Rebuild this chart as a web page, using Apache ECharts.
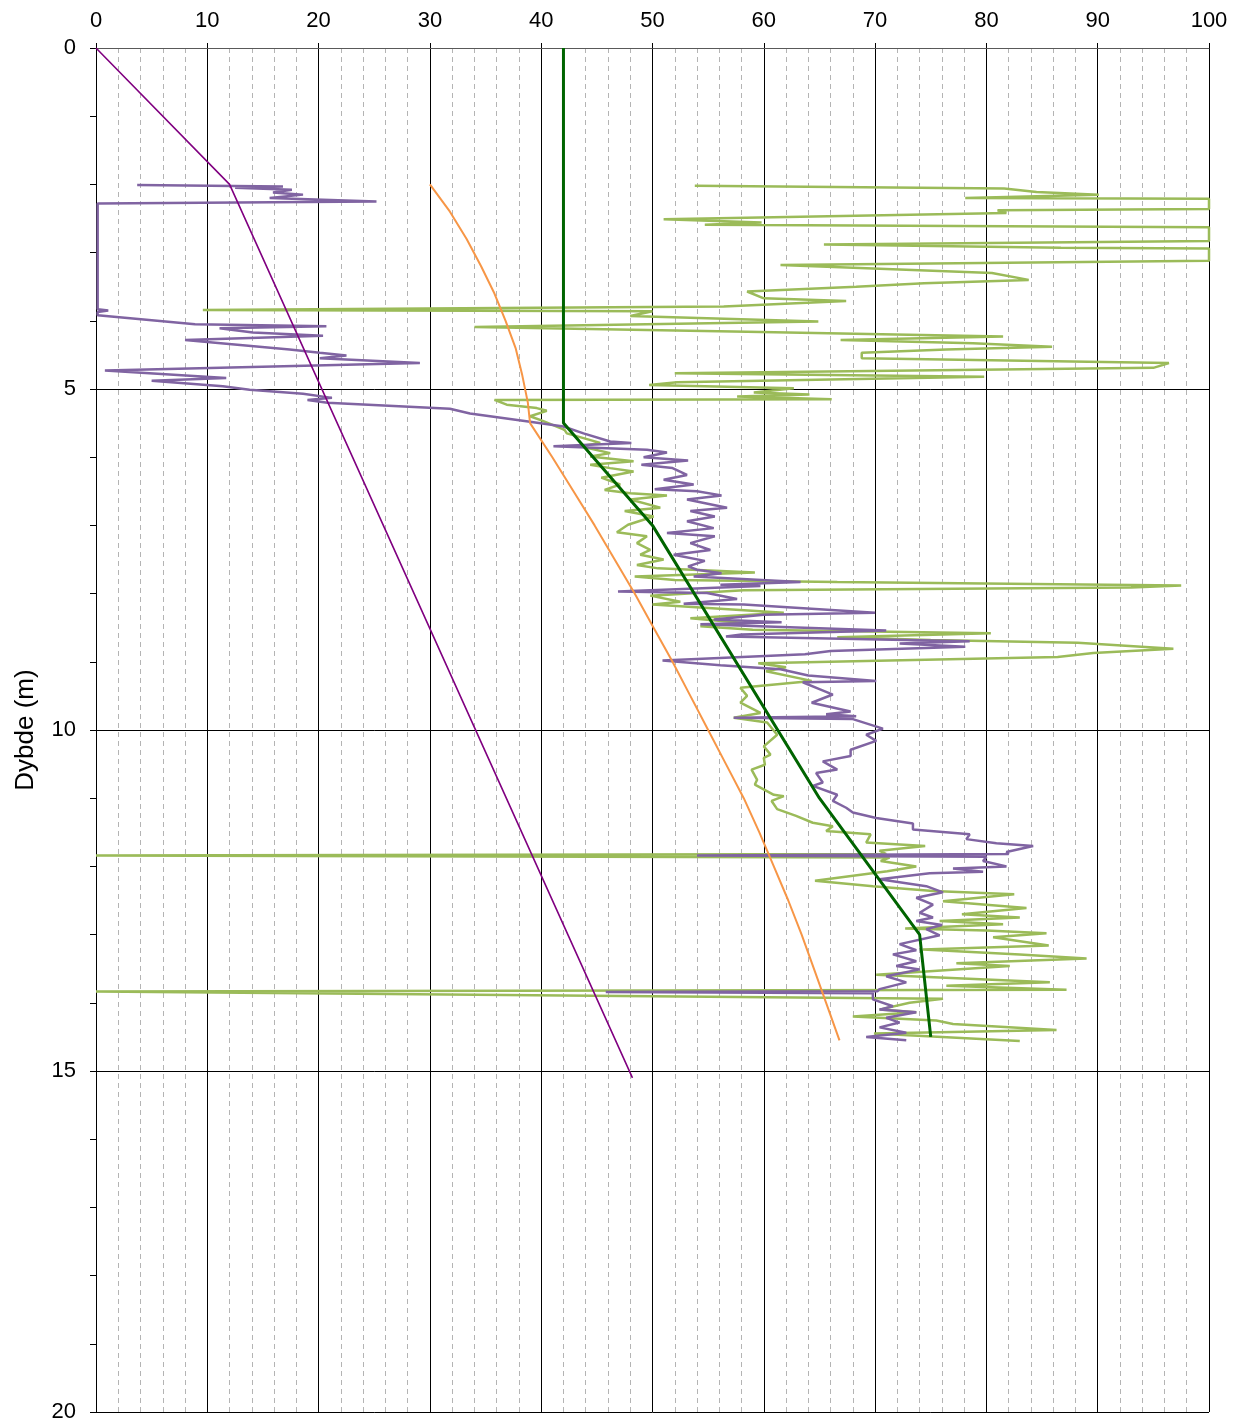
<!DOCTYPE html>
<html>
<head>
<meta charset="utf-8">
<script src="https://cdn.jsdelivr.net/npm/echarts@6/dist/echarts.min.js"></script>
<style>
  html, body { margin: 0; padding: 0; background: #ffffff; }
  #chart { width: 1239px; height: 1423px; }
</style>
</head>
<body>
<div id="chart"></div>
<script>
// Depth profiles, each point is [value, depth (m)].

// Sounding profile drawn in purple
const purpleProfile = [
  [3.7,2.01],[16.8,2.03],[12.5,2.05],[17.6,2.08],[15.9,2.12],[18.6,2.15],[15.6,2.20],[25.2,2.25],
  [0.15,2.28],[0.15,3.83],[1.1,3.85],[0.15,3.87],[0.15,3.92],[8.9,4.05],[20.7,4.08],[11.1,4.11],
  [14.1,4.17],[20.4,4.22],[8.0,4.28],[17.4,4.42],[20.1,4.47],[22.5,4.51],[20.1,4.55],[29.1,4.62],
  [0.8,4.73],[11.7,4.84],[5.0,4.88],[11.4,4.96],[13.8,5.01],[18.6,5.07],[21.2,5.13],[19.0,5.16],
  [20.8,5.20],[31.8,5.29],[33.6,5.36],[39.0,5.48],[42.0,5.55],[43.8,5.65],[46.2,5.77],[48.1,5.79],
  [41.1,5.84],[49.5,5.89],[51.3,5.93],[49.2,6.00],[53.2,6.05],[49.0,6.11],[51.8,6.16],[53.1,6.26],
  [51.0,6.33],[53.7,6.40],[50.2,6.47],[54.0,6.50],[56.2,6.56],[53.1,6.62],[56.7,6.74],[53.4,6.79],
  [55.6,6.87],[53.1,6.94],[55.5,7.04],[51.3,7.11],[55.6,7.16],[53.4,7.26],[55.2,7.36],[51.9,7.43],
  [54.7,7.52],[53.2,7.60],[54.0,7.65],[56.2,7.70],[53.7,7.75],[63.3,7.83],[56.1,7.87],[59.7,7.89],
  [46.9,7.97],[54.9,7.99],[57.6,8.08],[52.8,8.15],[58.2,8.16],[70.0,8.28],[60.0,8.31],[55.5,8.38],
  [61.6,8.42],[54.3,8.45],[71.0,8.54],[58.0,8.60],[56.6,8.63],[78.5,8.70],[72.2,8.73],[78.1,8.78],
  [66.0,8.84],[63.7,8.89],[50.9,8.98],[56.1,9.05],[61.5,9.11],[64.0,9.20],[70.1,9.28],[63.5,9.30],
  [65.0,9.40],[66.2,9.48],[64.3,9.60],[67.8,9.73],[65.6,9.77],[68.3,9.80],[57.3,9.82],[68.0,9.84],
  [70.7,9.98],[69.2,10.07],[70.1,10.16],[67.8,10.29],[67.8,10.38],[65.3,10.46],[66.6,10.58],[64.7,10.63],
  [65.3,10.77],[64.4,10.82],[66.6,10.95],[66.2,11.04],[67.4,11.14],[68.0,11.21],[70.1,11.29],[73.4,11.37],
  [73.4,11.46],[78.5,11.53],[78.2,11.60],[80.9,11.66],[84.2,11.70],[81.8,11.79],[82.0,11.82],[54.0,11.84],
  [80.0,11.86],[79.7,11.92],[81.8,12.00],[77.0,12.03],[79.7,12.08],[74.9,12.10],[70.4,12.19],[74.6,12.29],
  [76.1,12.38],[73.7,12.46],[75.2,12.56],[74.0,12.68],[75.2,12.75],[73.7,12.80],[76.0,12.86],[74.6,12.92],
  [75.8,13.01],[72.2,13.14],[73.7,13.23],[71.6,13.29],[73.7,13.39],[71.9,13.46],[74.0,13.51],[71.0,13.61],
  [72.8,13.70],[70.4,13.80],[70.2,13.83],[45.8,13.84],[69.8,13.86],[69.8,13.95],[71.6,14.05],[70.4,14.10],
  [73.7,14.14],[71.0,14.22],[72.2,14.29],[70.4,14.36],[72.8,14.44],[69.2,14.50],[72.8,14.55]
];

// Sounding profile drawn in light green
const greenProfile = [
  [53.8,2.02],[81.6,2.06],[84.5,2.11],[90.1,2.15],[78.1,2.20],[100,2.21],[100,2.36],[81.0,2.38],
  [81.8,2.42],[51.0,2.51],[59.8,2.56],[54.7,2.59],[100,2.63],[100,2.83],[65.4,2.88],[86.7,2.93],
  [100,2.94],[100,3.12],[61.5,3.18],[80.5,3.30],[83.8,3.40],[74.4,3.45],[68.3,3.50],[58.5,3.57],
  [60.0,3.67],[67.4,3.71],[56.4,3.79],[9.6,3.84],[50.0,3.86],[48.0,3.93],[64.9,4.01],[34.0,4.09],
  [58.5,4.16],[81.5,4.23],[66.9,4.28],[78.8,4.33],[85.9,4.38],[76.4,4.42],[68.8,4.47],[68.8,4.55],
  [96.4,4.62],[95.0,4.69],[52.0,4.77],[79.8,4.82],[52.2,4.90],[49.7,4.94],[62.7,4.99],[59.1,5.05],
  [64.1,5.08],[57.6,5.11],[66.1,5.15],[35.8,5.16],[36.9,5.23],[39.6,5.28],[40.5,5.32],[39.0,5.40],
  [40.2,5.47],[42.1,5.60],[42.3,5.65],[45.3,5.79],[43.5,5.84],[46.2,5.94],[44.4,5.99],[48.3,6.06],
  [44.4,6.11],[46.2,6.16],[48.3,6.21],[45.4,6.30],[47.1,6.40],[45.7,6.48],[48.0,6.53],[51.3,6.56],
  [48.0,6.62],[50.7,6.74],[47.5,6.79],[50.1,6.87],[47.8,6.99],[46.8,7.10],[49.5,7.16],[48.6,7.26],
  [49.8,7.36],[48.9,7.43],[51.0,7.50],[48.6,7.58],[50.5,7.63],[59.2,7.69],[48.4,7.75],[52.0,7.80],
  [66.6,7.83],[97.5,7.88],[93.0,7.91],[58.2,7.95],[49.8,8.03],[52.5,8.12],[50.0,8.16],[61.8,8.28],
  [53.4,8.36],[58.2,8.43],[54.3,8.48],[59.0,8.53],[80.4,8.58],[66.6,8.64],[75.0,8.68],[88.2,8.72],
  [96.8,8.81],[89.6,8.87],[86.4,8.93],[59.5,9.02],[62.0,9.08],[60.2,9.14],[64.3,9.28],[57.9,9.38],
  [58.5,9.50],[57.9,9.60],[59.7,9.75],[57.3,9.82],[60.3,9.89],[61.2,10.07],[60.0,10.24],[60.6,10.36],
  [60.0,10.41],[60.1,10.51],[58.9,10.58],[59.4,10.73],[59.2,10.80],[60.9,10.95],[61.8,10.97],[60.7,11.04],
  [61.2,11.16],[62.9,11.26],[64.4,11.36],[66.2,11.41],[65.6,11.48],[69.6,11.53],[69.2,11.65],[74.5,11.70],
  [70.4,11.77],[71.0,11.82],[0,11.84],[71.3,11.87],[70.5,11.92],[73.7,12.00],[71.1,12.07],[64.6,12.21],
  [69.8,12.29],[75.2,12.36],[82.5,12.41],[76.1,12.51],[83.6,12.61],[77.8,12.70],[83.0,12.75],[75.8,12.80],
  [81.5,12.85],[72.7,12.91],[80.0,12.94],[85.4,12.98],[80.6,13.04],[85.6,13.16],[74.3,13.22],[83.0,13.29],
  [89.0,13.35],[77.3,13.42],[82.1,13.46],[70.1,13.59],[85.7,13.70],[76.4,13.75],[87.2,13.81],[0,13.835],
  [0,13.845],[76.1,13.94],[73.1,14.00],[70.4,14.10],[73.7,14.14],[68.0,14.20],[75.5,14.26],[77.0,14.31],
  [86.3,14.40],[69.9,14.45],[83.0,14.56]
];

// Smooth orange reference curve
const orangeCurve = [
  [30.0,2.0],[31.8,2.4],[33.3,2.8],[34.6,3.2],[35.8,3.6],[36.8,4.0],[37.7,4.4],[38.3,4.8],
  [38.8,5.2],[39.0,5.5],[41.0,6.0],[42.9,6.5],[44.8,7.0],[46.6,7.5],[48.4,8.0],[50.1,8.5],
  [51.8,9.0],[53.4,9.5],[55.0,10.0],[56.6,10.5],[58.2,11.0],[59.6,11.5],[60.9,12.0],[62.2,12.5],
  [63.4,13.0],[64.5,13.5],[65.6,14.0],[66.8,14.55]
];

// Straight dark purple line
const purpleLine = [[0,0],[12.0,2.0],[48.2,15.1]];

// Dark green interpreted trend
const greenTrend = [[42,0],[42,5.5],[50,7.0],[65,11.0],[74,13.0],[75,14.5]];

const chart = echarts.init(document.getElementById('chart'), null, { renderer: 'canvas' });

const fontFamily = 'Liberation Sans, Arial, sans-serif';
const labelFont = { fontFamily, fontSize: 22, color: '#000000' };

function line(name, data, color, width, z) {
  return {
    name, type: 'line', data, z,
    showSymbol: false, symbol: 'none', smooth: false, clip: true,
    lineStyle: { color, width },
    emphasis: { disabled: true }
  };
}

chart.setOption({
  animation: false,
  backgroundColor: '#ffffff',
  grid: { left: 96, right: 30, top: 48, bottom: 10, containLabel: false },
  xAxis: {
    type: 'value', position: 'top', min: 0, max: 100, interval: 10,
    axisLine: { show: true, lineStyle: { color: '#595959', width: 1 } },
    axisTick: { show: true, length: 5, inside: false, lineStyle: { color: '#000000' } },
    axisLabel: Object.assign({ margin: 16 }, labelFont),
    splitLine: { show: true, lineStyle: { color: '#000000', width: 1 } },
    minorTick: { show: false, splitNumber: 5 },
    minorSplitLine: { show: true, lineStyle: { color: '#b4b4b4', width: 1, type: [5, 4] } }
  },
  yAxis: {
    type: 'value', inverse: true, min: 0, max: 20, interval: 5,
    name: 'Dybde (m)', nameLocation: 'middle', nameGap: 57, nameRotate: 90,
    nameTextStyle: { fontFamily, fontSize: 26, color: '#000000' },
    axisLine: { show: true, lineStyle: { color: '#000000', width: 1 } },
    axisTick: { show: true, length: 6, inside: false, lineStyle: { color: '#000000' } },
    minorTick: { show: true, splitNumber: 5, length: 6, lineStyle: { color: '#000000' } },
    axisLabel: Object.assign({ margin: 20 }, labelFont),
    splitLine: { show: true, lineStyle: { color: '#000000', width: 1 } },
    minorSplitLine: { show: false }
  },
  series: [
    line('greenProfile', greenProfile, '#9BBB59', 2.5, 2),
    line('purpleProfile', purpleProfile, '#8064A2', 2.5, 3),
    line('orangeCurve', orangeCurve, '#F79646', 2, 4),
    line('purpleLine', purpleLine, '#800080', 1.6, 5),
    line('greenTrend', greenTrend, '#006400', 3, 6)
  ]
});
</script>
</body>
</html>
